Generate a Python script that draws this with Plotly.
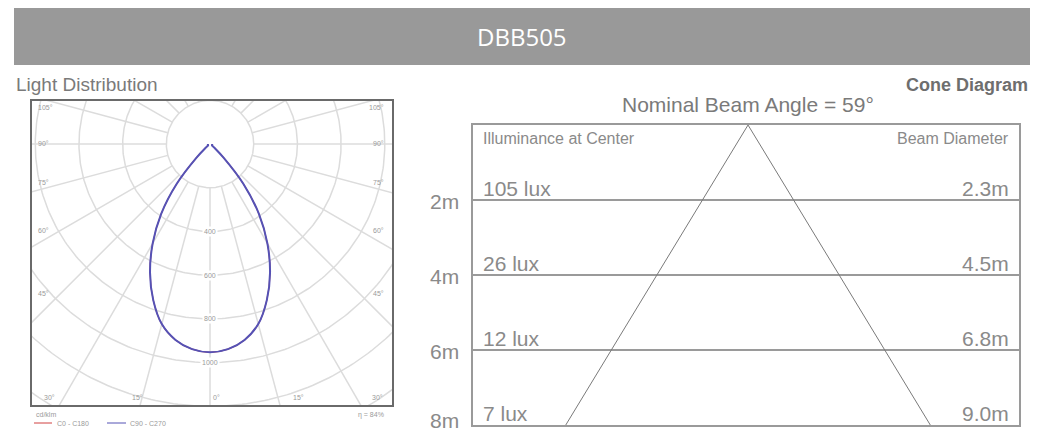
import numpy as np
import plotly.graph_objects as go

# ---------------- data ----------------
title = "DBB505"
beam_angle = 59  # degrees

# light distribution (C90-C270 plane), gamma angle (deg) vs intensity (cd/klm)
gamma_deg = [0, 5, 10, 15, 20, 25, 30, 35, 40, 45, 50, 55, 60, 70, 80, 90]
intensity_c90 = [953, 942, 910, 853, 760, 650, 525, 390, 237, 86, 25, 12, 10, 10, 10, 10]
intensity_c0 = [953, 942, 910, 853, 760, 650, 525, 390, 237, 86, 25, 12, 10, 10, 10, 10]

ring_values = [200, 400, 600, 800, 1000, 1200, 1400, 1600]
ring_labels = [400, 600, 800, 1000]
spoke_angles = list(range(-180, 181, 15))
efficiency = "η = 84%"

# cone diagram
distances_m = [2, 4, 6, 8]
lux_center = [105, 26, 12, 7]
beam_diam_m = [2.3, 4.5, 6.8, 9.0]

W, H = 1045, 435
def px(x):
    return x / W
def py(y):
    return 1 - y / H

GRID = "#dcdcdc"
TXT = "#8a8a8a"
FONT = "Liberation Sans, Arial, sans-serif"

fig = go.Figure()

# ---------------- polar (drawn on cartesian axes) ----------------
th = np.linspace(0, 2 * np.pi, 361)
cx, cy = [], []
for r in ring_values:
    cx += list(r * np.sin(th)) + [None]
    cy += list(r * np.cos(th)) + [None]
fig.add_trace(go.Scatter(x=cx, y=cy, mode="lines", line=dict(color=GRID, width=1.5),
                         hoverinfo="skip", showlegend=False, xaxis="x", yaxis="y"))
sx, sy = [], []
for a in spoke_angles:
    ar = np.radians(a)
    sx += [ring_values[0] * np.sin(ar), 3000 * np.sin(ar), None]
    sy += [-ring_values[0] * np.cos(ar), -3000 * np.cos(ar), None]
fig.add_trace(go.Scatter(x=sx, y=sy, mode="lines", line=dict(color=GRID, width=1.5),
                         hoverinfo="skip", showlegend=False, xaxis="x", yaxis="y"))

def curve(gam, inten):
    g = np.radians(np.array(gam, dtype=float))
    I = np.array(inten, dtype=float)
    xs = np.concatenate([-(I * np.sin(g))[::-1], (I * np.sin(g))[1:]])
    ys = np.concatenate([-(I * np.cos(g))[::-1], -(I * np.cos(g))[1:]])
    return xs, ys

x0c, y0c = curve(gamma_deg, intensity_c0)
fig.add_trace(go.Scatter(x=x0c, y=y0c, mode="lines", line=dict(color="#d04040", width=1.2, shape="spline"),
                         name="C0 - C180", showlegend=False, xaxis="x", yaxis="y"))
x90, y90 = curve(gamma_deg, intensity_c90)
fig.add_trace(go.Scatter(x=x90, y=y90, mode="lines", line=dict(color="#5552b5", width=2, shape="spline"),
                         name="C90 - C270", showlegend=False, xaxis="x", yaxis="y"))

# ---------------- cone diagram ----------------
half = beam_diam_m[-1] / 2
dmax = distances_m[-1]
fig.add_trace(go.Scatter(x=[-half, 0, half], y=[dmax, 0, dmax], mode="lines",
                         line=dict(color="#7a7a7a", width=1), hoverinfo="skip",
                         showlegend=False, xaxis="x2", yaxis="y2"))

fig.update_layout(
    width=W, height=H, margin=dict(l=0, r=0, t=0, b=0),
    paper_bgcolor="white", plot_bgcolor="white",
    font=dict(family=FONT, color=TXT),
    xaxis=dict(domain=[px(32), px(392)], range=[-815, 833], showgrid=False, zeroline=False,
               showticklabels=False, ticks="", showline=True, mirror=True,
               linecolor="#6a6a6a", linewidth=2, fixedrange=True),
    yaxis=dict(domain=[py(405), py(101)], range=[-1194, 197], showgrid=False, zeroline=False,
               showticklabels=False, ticks="", showline=True, mirror=True,
               linecolor="#6a6a6a", linewidth=2, fixedrange=True),
    xaxis2=dict(domain=[px(473), px(1019)], range=[-6.79, 6.69], showgrid=False, zeroline=False,
                showticklabels=False, ticks="", showline=True, mirror=True,
                linecolor="#9a9a9a", linewidth=2, fixedrange=True, anchor="y2"),
    yaxis2=dict(domain=[py(425), py(125)], range=[dmax, 0], zeroline=False,
                tickvals=distances_m, showticklabels=False, ticks="",
                showgrid=True, gridcolor="#9a9a9a", gridwidth=1.5,
                showline=True, mirror=True, linecolor="#9a9a9a", linewidth=2,
                fixedrange=True, anchor="x2"),
)

shapes = [
    dict(type="rect", xref="paper", yref="paper", x0=px(14), x1=px(1030), y0=py(65), y1=py(8),
         fillcolor="#999999", line=dict(width=0), layer="below"),
    dict(type="line", xref="paper", yref="paper", x0=px(34), x1=px(52), y0=py(423), y1=py(423),
         line=dict(color="#d04040", width=1)),
    dict(type="line", xref="paper", yref="paper", x0=px(107), x1=px(126), y0=py(423), y1=py(423),
         line=dict(color="#5552b5", width=1)),
]
fig.update_layout(shapes=shapes)

ann = []
def A(**kw):
    kw.setdefault("showarrow", False)
    kw.setdefault("yanchor", "middle")
    ann.append(kw)

A(text=title, x=px(522), y=py(37), xref="paper", yref="paper",
  font=dict(size=24, color="white", family="Open Sans, sans-serif"))
A(text="Light Distribution", x=px(14), y=py(85), xref="paper", yref="paper",
  xanchor="left", font=dict(size=19, color="#7a7a7a"))
A(text="<b>Cone Diagram</b>", x=px(1030), y=py(85), xref="paper", yref="paper",
  xanchor="right", font=dict(size=18, color="#6e6e6e"))
A(text=f"Nominal Beam Angle = {beam_angle}°", x=0, xref="x2", y=py(104), yref="paper",
  font=dict(size=21, color="#7a7a7a"))

# polar angle labels
small = dict(size=7, color="#9a9a9a")
left_lbls = [("105°", 107), ("90°", 143), ("75°", 183), ("60°", 231), ("45°", 293)]
for t, yy in left_lbls:
    A(text=t, x=px(36), y=py(yy), xref="paper", yref="paper", xanchor="left", font=small)
    A(text=t, x=px(386), y=py(yy), xref="paper", yref="paper", xanchor="right", font=small)
for t, xx in [("30°", 42), ("15°", 130), ("0°", 211), ("15°", 291), ("30°", 377)]:
    A(text=t, x=px(xx), y=py(397), xref="paper", yref="paper", font=small)
for r in ring_labels:
    A(text=str(r), x=0, y=-r, xref="x", yref="y", font=small, bgcolor="white")

# legend under polar
A(text="cd/klm", x=px(34), y=py(414), xref="paper", yref="paper", xanchor="left", font=small)
A(text="C0 - C180", x=px(55), y=py(423), xref="paper", yref="paper", xanchor="left", font=small)
A(text="C90 - C270", x=px(128), y=py(423), xref="paper", yref="paper", xanchor="left", font=small)
A(text=efficiency, x=px(386), y=py(415), xref="paper", yref="paper", xanchor="right", font=small)

# cone labels
A(text="Illuminance at Center", x=0.015, xref="x2 domain", y=0, yref="y2",
  xanchor="left", yanchor="top", yshift=-3, font=dict(size=16, color=TXT))
A(text="Beam Diameter", x=0.985, xref="x2 domain", y=0, yref="y2",
  xanchor="right", yanchor="top", yshift=-3, font=dict(size=16, color=TXT))
for d, lx, bd in zip(distances_m, lux_center, beam_diam_m):
    A(text=f"{d}m", x=px(461), xref="paper", y=d, yref="y2", xanchor="right",
      yshift=(5 if d == dmax else -1), font=dict(size=21, color=TXT))
    A(text=f"{lx} lux", x=0.015, xref="x2 domain", y=d, yref="y2",
      xanchor="left", yanchor="bottom", yshift=-2, font=dict(size=21, color=TXT))
    A(text=f"{bd:.1f}m", x=0.985, xref="x2 domain", y=d, yref="y2",
      xanchor="right", yanchor="bottom", yshift=-2, font=dict(size=21, color=TXT))
fig.update_layout(annotations=ann)

fig.write_html("out.html", config={"displayModeBar": False},
               post_script="document.body.style.margin='0';")
